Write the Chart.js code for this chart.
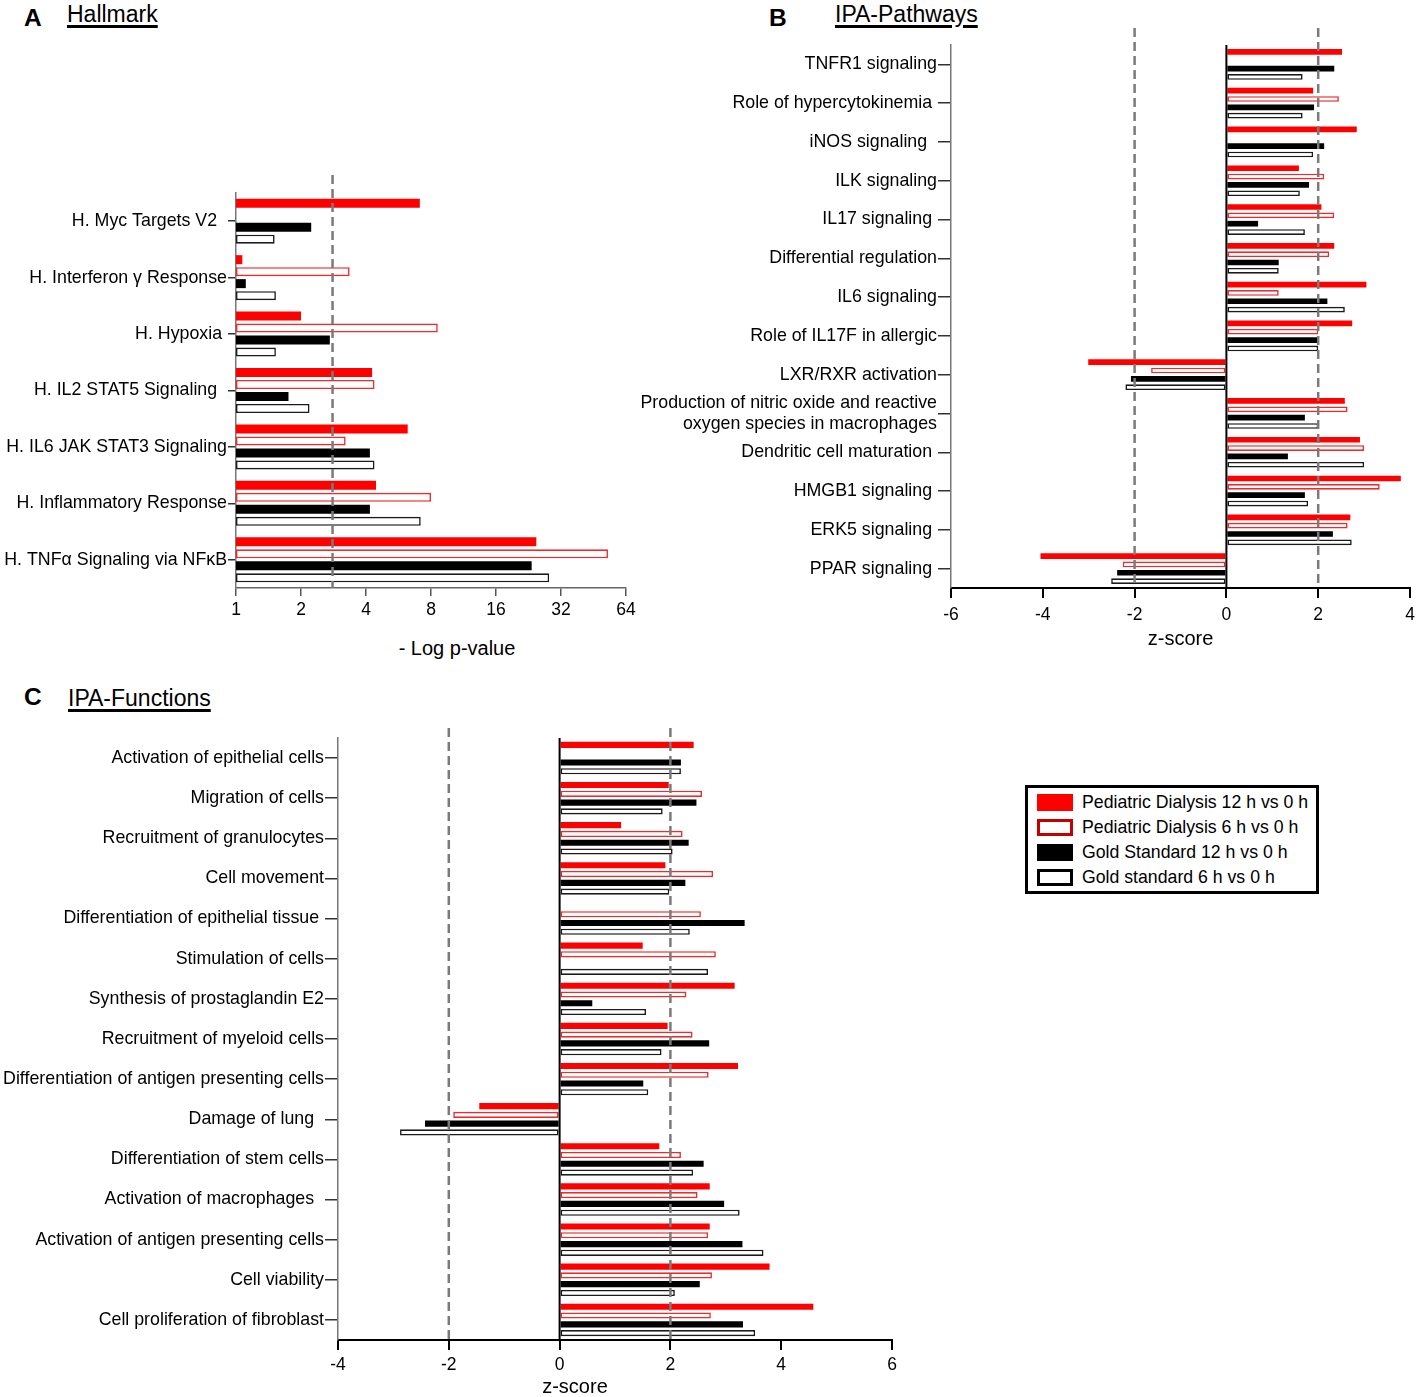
<!DOCTYPE html>
<html lang="en">
<head>
<meta charset="UTF-8">
<title>Hallmark / IPA-Pathways / IPA-Functions</title>
<script src="https://cdn.jsdelivr.net/npm/chart.js@4.4.0/dist/chart.umd.min.js"></script>
<style>
    body { margin: 0; background: #fff; font-family: 'Liberation Sans', Arial, sans-serif; color: #000; }
    #page { position: relative; width: 1417px; height: 1397px; overflow: hidden; }
    canvas { position: absolute; }
    .tag { position: absolute; font-weight: bold; font-size: 24.5px; line-height: 1; }
    .head { position: absolute; font-size: 23px; line-height: 1; text-decoration: underline; text-decoration-thickness: 3px; text-underline-offset: 3px; }
    .axtitle { position: absolute; font-size: 20px; line-height: 20px; transform: translateX(-50%); white-space: nowrap; }
    #legend { position: absolute; left: 1025px; top: 785px; width: 294px; height: 109px; box-sizing: border-box; border: 3px solid #000; background: #fff; }
    #legend .sw { position: absolute; left: 9px; width: 36px; height: 17px; box-sizing: border-box; }
    #legend .txt { position: absolute; left: 54px; font-size: 17.7px; line-height: 17px; white-space: nowrap; }
</style>
</head>
<body>
<div id="page">
    <div class="tag" style="left:24px; top:6px;">A</div>
    <div class="head" style="left:67px; top:3px;">Hallmark</div>
    <div class="tag" style="left:769px; top:6px;">B</div>
    <div class="head" style="left:835px; top:3px;">IPA-Pathways</div>
    <div class="tag" style="left:24px; top:685px;">C</div>
    <div class="head" style="left:68px; top:687px;">IPA-Functions</div>

    <canvas id="chartA" width="660" height="455" style="left:0px; top:170px;"></canvas>
    <canvas id="chartB" width="805" height="640" style="left:620px; top:20px;"></canvas>
    <canvas id="chartC" width="910" height="663" style="left:0px; top:715px;"></canvas>

    <div class="axtitle" style="left:457px; top:638px;">- Log p-value</div>
    <div class="axtitle" style="left:575px; top:1376px;">z-score</div>
    <div id="legend"></div>
</div>
<script>
// series (same four in every panel)
const seriesNames = ['Pediatric Dialysis 12 h vs 0 h', 'Pediatric Dialysis 6 h vs 0 h', 'Gold Standard 12 h vs 0 h', 'Gold standard 6 h vs 0 h'];

// A - Hallmark, -log p-value
const hallmarkLabels = ['H. Myc Targets V2  ', 'H. Interferon γ Response', 'H. Hypoxia ', 'H. IL2 STAT5 Signaling  ', 'H. IL6 JAK STAT3 Signaling', 'H. Inflammatory Response', 'H. TNFα Signaling via NFκB'];
const hallmarkPD12 = [7.1, 1.07, 2.0, 4.27, 6.24, 4.45, 24.6];
const hallmarkPD6 = [null, 3.36, 8.6, 4.38, 3.22, 8.0, 52.8];
const hallmarkGS12 = [2.23, 1.11, 2.72, 1.75, 4.17, 4.17, 23.4];
const hallmarkGS6 = [1.51, 1.53, 1.53, 2.19, 4.38, 7.17, 28.2];
const hallmarkTicks = [1, 2, 4, 8, 16, 32, 64];
const hallmarkCutoff = [2.8];

// B - IPA pathways, z-score
const pathwayLabels = ['TNFR1 signaling', 'Role of hypercytokinemia ', 'iNOS signaling  ', 'ILK signaling', 'IL17 signaling ', 'Differential regulation', 'IL6 signaling', 'Role of IL17F in allergic', 'LXR/RXR activation',
    ['Production of nitric oxide and reactive', 'oxygen species in macrophages'], 'Dendritic cell maturation ', 'HMGB1 signaling ', 'ERK5 signaling ', 'PPAR signaling '];
const pathwayPD12 = [2.52, 1.89, 2.84, 1.58, 2.07, 2.35, 3.05, 2.74, -3.01, 2.58, 2.91, 3.80, 2.70, -4.05];
const pathwayPD6 = [null, 2.45, null, 2.13, 2.35, 2.24, 1.14, 2.0, -1.64, 2.64, 3.0, 3.34, 2.64, -2.26];
const pathwayGS12 = [2.35, 1.91, 2.13, 1.80, 0.69, 1.14, 2.20, 2.0, -2.08, 1.71, 1.34, 1.71, 2.32, -2.38];
const pathwayGS6 = [1.66, 1.66, 1.89, 1.60, 1.71, 1.14, 2.58, 2.0, -2.20, 2.0, 3.0, 1.78, 2.73, -2.51];
const pathwayRange = [-6, 4];

// C - IPA functions, z-score
const functionLabels = ['Activation of epithelial cells', 'Migration of cells', 'Recruitment of granulocytes', 'Cell movement', 'Differentiation of epithelial tissue ', 'Stimulation of cells',
    'Synthesis of prostaglandin E2', 'Recruitment of myeloid cells', 'Differentiation of antigen presenting cells', 'Damage of lung  ', 'Differentiation of stem cells',
    'Activation of macrophages  ', 'Activation of antigen presenting cells', 'Cell viability', 'Cell proliferation of fibroblast'];
const functionPD12 = [2.42, 1.97, 1.11, 1.91, null, 1.50, 3.16, 1.95, 3.22, -1.45, 1.80, 2.71, 2.71, 3.79, 4.58];
const functionPD6 = [null, 2.57, 2.22, 2.77, 2.55, 2.82, 2.29, 2.40, 2.69, -1.92, 2.19, 2.49, 2.68, 2.75, 2.73];
const functionGS12 = [2.19, 2.47, 2.33, 2.27, 3.34, null, 0.59, 2.70, 1.51, -2.43, 2.60, 2.97, 3.30, 2.53, 3.31];
const functionGS6 = [2.19, 1.86, 2.04, 1.98, 2.35, 2.68, 1.56, 1.84, 1.60, -2.88, 2.41, 3.25, 3.68, 2.08, 3.53];
const functionRange = [-4, 6];

const zCutoffs = [-2, 2];

Chart.defaults.font.family = "'Liberation Sans', Arial, sans-serif";
Chart.defaults.color = '#000';

// dashed threshold lines + black zero line
const refLines = {
    id: 'refLines',
    afterDatasetsDraw(chart, args, opts) {
        const ctx = chart.ctx;
        const area = chart.chartArea;
        const x = chart.scales.x;
        ctx.save();
        if (opts.zero) {
            const p0 = x.getPixelForValue(0);
            ctx.strokeStyle = '#000';
            ctx.lineWidth = 2;
            ctx.beginPath();
            ctx.moveTo(p0, area.top);
            ctx.lineTo(p0, area.bottom);
            ctx.stroke();
        }
        ctx.strokeStyle = '#7a7a7a';
        ctx.lineWidth = 2.5;
        ctx.setLineDash([9, 5]);
        (opts.dashes || []).forEach(v => {
            const p = x.getPixelForValue(v);
            ctx.beginPath();
            ctx.moveTo(p, area.top - opts.over);
            ctx.lineTo(p, area.bottom);
            ctx.stroke();
        });
        ctx.restore();
    }
};

const barStyles = [
    {backgroundColor: '#ff0000', borderWidth: 0},
    {backgroundColor: '#ffffff', borderColor: '#ee2a2a', borderWidth: 1.6},
    {backgroundColor: '#000000', borderWidth: 0},
    {backgroundColor: '#ffffff', borderColor: '#1a1a1a', borderWidth: 1.6}
];

function hbar(id, labels, series, cfg) {
    return new Chart(document.getElementById(id), {
        type: 'bar',
        data: {
            labels: labels,
            datasets: series.map((d, i) => Object.assign({
                label: seriesNames[i],
                data: d,
                borderSkipped: false,
                categoryPercentage: cfg.cat,
                barPercentage: cfg.bar
            }, barStyles[i]))
        },
        options: {
            indexAxis: 'y',
            responsive: false,
            animation: false,
            layout: {padding: cfg.pad},
            plugins: {
                legend: {display: false},
                tooltip: {enabled: false},
                refLines: {dashes: cfg.dashes, zero: cfg.zero, over: cfg.over}
            },
            scales: {
                x: cfg.x,
                y: {
                    afterFit: s => { s.width = cfg.yWidth; },
                    grid: {offset: false, drawOnChartArea: false, tickLength: cfg.yTick, color: '#333', lineWidth: 1.5},
                    border: {color: '#777', width: 1.5},
                    ticks: {autoSkip: false, padding: 1, font: {size: 17.8}}
                }
            }
        },
        plugins: [refLines]
    });
}

// A
hbar('chartA', hallmarkLabels, [hallmarkPD12, hallmarkPD6, hallmarkGS12, hallmarkGS6], {
    cat: 0.85, bar: 0.75, yWidth: 236, yTick: 8,
    pad: {top: 23, right: 34, left: 0, bottom: 0},
    dashes: hallmarkCutoff, zero: false, over: 18,
    x: {
        type: 'logarithmic', min: hallmarkTicks[0], max: hallmarkTicks[hallmarkTicks.length - 1],
        afterBuildTicks: s => { s.ticks = hallmarkTicks.map(v => ({value: v})); },
        afterFit: s => { s.height = 37; },
        grid: {drawOnChartArea: false, tickLength: 8, color: '#555', lineWidth: 1.5},
        border: {color: '#666', width: 1.5},
        ticks: {callback: v => String(v), padding: 4, maxRotation: 0, font: {size: 17.5}}
    }
});

// B
hbar('chartB', pathwayLabels, [pathwayPD12, pathwayPD6, pathwayGS12, pathwayGS6], {
    cat: 0.86, bar: 0.68, yWidth: 331, yTick: 13,
    pad: {top: 25, right: 15, left: 0, bottom: 0},
    dashes: zCutoffs, zero: true, over: 17,
    x: {
        min: pathwayRange[0], max: pathwayRange[1],
        afterFit: s => { s.height = 72; },
        grid: {drawOnChartArea: false, tickLength: 10, color: '#000', lineWidth: 2},
        border: {color: '#000', width: 2},
        ticks: {stepSize: 2, padding: 7, maxRotation: 0, font: {size: 17.5}},
        title: {display: true, text: 'z-score', font: {size: 20}, padding: {top: 0, bottom: 9}}
    }
});

// C
hbar('chartC', functionLabels, [functionPD12, functionPD6, functionGS12, functionGS6], {
    cat: 0.875, bar: 0.7, yWidth: 338, yTick: 13,
    pad: {top: 23, right: 18, left: 0, bottom: 0},
    dashes: zCutoffs, zero: true, over: 10,
    x: {
        min: functionRange[0], max: functionRange[1],
        afterFit: s => { s.height = 38; },
        grid: {drawOnChartArea: false, tickLength: 10, color: '#000', lineWidth: 2},
        border: {color: '#000', width: 2},
        ticks: {stepSize: 2, padding: 5, maxRotation: 0, font: {size: 17.5}}
    }
});

// legend box
const legendSwatches = [
    'background:#ff0000;',
    'background:#fff; border:3px solid #c40000;',
    'background:#000;',
    'background:#fff; border:3px solid #000;'
];
const legend = document.getElementById('legend');
seriesNames.forEach((name, i) => {
    const top = 6 + i * 25;
    legend.innerHTML += '<div class="sw" style="top:' + top + 'px;' + legendSwatches[i] + '"></div>' +
        '<div class="txt" style="top:' + top + 'px;">' + name + '</div>';
});
</script>
</body>
</html>
